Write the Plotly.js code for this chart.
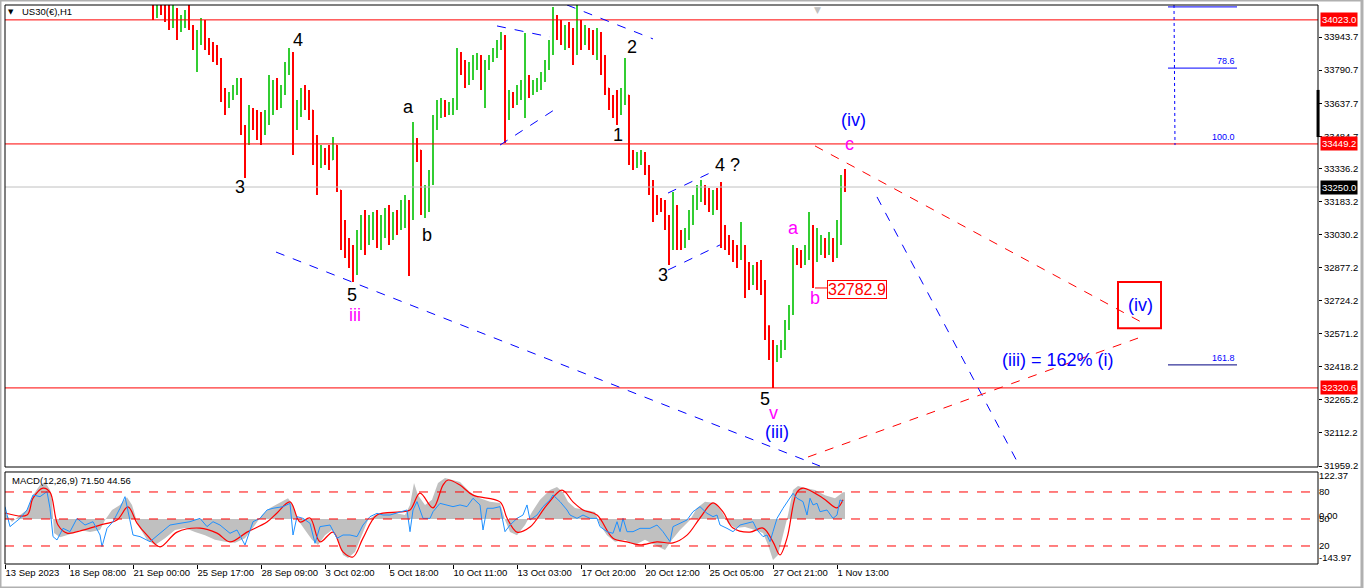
<!DOCTYPE html>
<html><head><meta charset="utf-8">
<script src="https://cdn.plot.ly/plotly-3.0.1.min.js"></script>
<style>html,body{margin:0;padding:0;background:#fff;overflow:hidden}#chart{width:1366px;height:588px}</style>
</head><body><div id="chart"></div><script>
// ---------- DATA (US30 H1) ----------
const firstBar = 37;          // bar number of the first visible bar
const firstOpen = 34069;
const high = [34101,34115,34106,34096,34101,34092,34078,34046,34069,34096,
33999,33976,34032,34023,33939,33921,33907,33847,33708,33689,
33722,33754,33754,33537,33629,33615,33606,33597,33606,33768,
33745,33754,33722,33828,33893,33874,33652,33708,33722,33699,
33606,33490,33444,33430,33444,33481,33444,33236,33097,33014,
32982,33051,33120,33144,33120,33134,33144,33120,33153,33167,
33134,33144,33190,33213,33190,33551,33477,33421,33259,33329,
33583,33652,33662,33652,33643,33662,33893,33874,33837,33828,
33861,33870,33861,33837,33861,33893,33930,33967,33953,33699,
33689,33722,33745,33962,33768,33745,33754,33782,33837,33930,
34083,34046,34023,33999,34013,33985,34092,34023,33999,33985,
33976,33985,33967,33861,33708,33676,33699,33708,33847,33676,
33421,33412,33421,33412,33352,33282,33213,33199,33190,33120,
33227,33167,33051,33060,33144,33213,33259,33282,33259,33245,
33236,33245,33273,33074,33028,33005,32982,33088,32982,32903,
32889,32903,32912,32820,32611,32542,32519,32542,32635,32704,
32982,32968,32959,32982,33134,33074,33060,33028,33014,33042,
33014,33097,33305,33333];
const low = [34023,34032,34046,34013,33976,33985,33930,33967,33985,33976,
33884,33782,33907,33884,33861,33828,33814,33643,33583,33615,
33652,33676,33490,33292,33444,33514,33467,33444,33490,33537,
33583,33606,33615,33676,33768,33398,33514,33574,33606,33560,
33352,33213,33338,33352,33329,33375,33227,32959,32922,32875,
32810,32843,32959,32935,32982,33005,32968,32959,33014,32982,
33005,33028,33051,33060,32838,33097,33366,33120,33107,33134,
33259,33514,33569,33574,33583,33583,33606,33768,33708,33722,
33745,33791,33699,33615,33791,33828,33847,33884,33453,33560,
33615,33629,33652,33569,33662,33676,33689,33699,33736,33791,
33861,33930,33907,33884,33893,33814,33861,33884,33907,33884,
33861,33837,33768,33676,33606,33569,33537,33583,33629,33352,
33329,33338,33352,33305,33213,33088,33120,33134,33051,32889,
32959,32959,32959,32968,33005,33074,33144,33181,33167,33134,
33120,33144,32968,32959,32935,32903,32875,32912,32736,32773,
32797,32773,32750,32542,32450,32320.6,32440,32459,32496,32588,
32658,32889,32875,32889,32912,32782.9,32903,32935,32922,32935,
32903,32922,32982,33227];
const close = [34046,34078,34059,34032,33999,34069,33976,34013,34032,33995,
33907,33930,34013,33921,33893,33884,33837,33676,33652,33662,
33708,33736,33514,33467,33583,33569,33537,33514,33560,33676,
33689,33652,33699,33800,33861,33560,33583,33676,33652,33606,
33421,33375,33412,33398,33375,33444,33236,33028,32982,32935,
32903,33005,33074,33028,33074,33097,33014,33060,33120,33051,
33088,33074,33144,33167,33120,33467,33421,33190,33213,33282,
33537,33606,33615,33597,33615,33629,33837,33791,33745,33791,
33837,33847,33722,33814,33847,33874,33907,33939,33652,33662,
33652,33699,33708,33722,33708,33722,33736,33754,33814,33907,
34023,33976,33953,33976,33930,33884,33999,33953,33967,33939,
33907,33930,33837,33708,33652,33629,33606,33652,33676,33398,
33375,33384,33398,33338,33259,33167,33167,33153,33097,33005,
33144,33005,32996,33028,33120,33190,33213,33227,33213,33190,
33199,33167,33028,33005,32982,32959,32935,32959,32866,32843,
32866,32829,32797,32588,32496,32473,32496,32519,32611,32681,
32935,32922,32912,32935,33028,32959,32982,32982,32968,33005,
32935,33051,33259,33250];

// MACD histogram (bar number, value)
const histX = [0,1.75,3.75,5.5,7,8.75,10,11.25,11.75,12.25,13.75,16.25,18.75,21.25,23.75,25,26.75,28.75,30.5,31.75,33.25,35.5,37.5,40,42.5,45,47.5,50,52.5,55,57.5,60,62.5,64.25,66.25,68.75,70.75,72,73.25,75,76.75,78.25,80,81.75,83.25,84.5,85.75,87.5,89.25,90.75,92.5,95,97.5,100,101.25,102.25,103.25,105,106.75,108.25,110,111.75,113.75,116.25,118.75,121.25,123.75,125,126.25,128,130,131.75,133.75,136.25,138,139.5,140.75,142.5,145,147.5,148.75,150.5,152.5,155,157.5,160,162.5,165,166.75,168.75,171.25,173,175,177.5,179.25,180.75,182.5,185,187.5,189.5,190.75,192,193.25,194.5,195.75,197,198.25,200,202.5,205,207.5,209.5,210];
const histY = [18,-9,12,27,71,101,110,86,57,-42,-54,-45,-33,-39,-33,-3,27,42,65,42,-18,-62,-77,-57,-33,-27,-39,-48,-62,-68,-71,-57,-18,12,33,48,62,42,-3,-33,-62,-77,-48,-33,-62,-107,-116,-98,-48,-3,12,18,18,12,42,107,71,42,57,107,122,116,110,80,62,51,48,-3,-39,-48,-18,21,57,86,95,80,51,33,27,21,-18,-48,-68,-62,-77,-62,-77,-92,-62,-33,-3,33,51,48,21,-12,-27,-24,-33,-42,-77,-122,-107,-48,12,86,98,92,86,71,62,80,80];
// MACD signal line
const sigX = [0,5.5,7,9.5,11.25,13.25,15.5,19.5,23.75,28,30.75,33,35.5,38.75,43,48.75,53,56.25,60.5,65.5,68,71.25,73.75,76.25,78.75,82,84.5,87,89.5,93,98.75,101.25,103.75,107,109.5,110.75,113.75,117,123.75,125.5,128,131.25,135.5,139.25,142,144.5,148,152,155.5,158.75,163,167,170.5,173.75,177,179.5,182,186.25,189.5,192,193.75,195.5,198,199.5,204.5,208,209.5];
const sigY = [18,12,62,92,80,-18,-42,-33,-18,-3,36,-12,-48,-83,-39,-27,-42,-68,-39,-9,18,51,-9,3,-68,-39,-98,-113,-57,12,21,27,77,33,101,116,101,71,51,3,-39,-24,42,86,51,27,12,-57,-68,-77,-68,-71,-48,3,48,21,-27,-39,-27,-68,-107,-57,80,92,62,33,57];
// oscillator line (0-100 scale)
const oscX = [0,1.25,3.75,5.5,7,8.75,10.5,11.25,12,13,14.5,16.25,18,20,22,23.75,24.25,25.5,27,28.75,30,30.75,32,33.75,36.25,38.75,41.25,43.75,46.25,48.75,50.5,52,53.75,56.25,58,60,62,63.75,65.5,67,69.5,71.25,72,73,74.5,76.25,77.5,78.75,81.25,83,84.5,86.25,88,89.5,91.25,93,94.5,96.25,98.75,100.5,101.25,102,103,104.5,106.25,107,108.75,110.5,112,113.75,115.5,117,118.75,119.5,120.5,122,123.75,125,126.25,128,129.5,130.5,131.25,133,134.5,136.25,137,138.75,140.5,141.25,143,144.5,146.25,148,148.75,150.5,152,153,153.75,154.5,155.5,157,158.75,161.25,163,164.5,166.25,167,168.75,170.5,172,173,173.75,175.5,177,178,178.75,180.5,182,183.75,185.5,187,188,189.5,190.5,191.25,192,193,194.5,196.25,197,198,199.5,200.5,201.25,202,203,203.75,205.5,207,208,208.75,209.5];
const oscY = [63.7,41.5,50.7,60,76.7,74.8,80.4,61.9,30.4,26.7,39.6,35.9,50.7,43.3,47,32.2,19.3,39.6,47,61.9,74.8,58.1,32.2,30.4,24.8,34.1,43.3,45.2,47,50.7,41.5,47,43.3,34.1,37.8,21.1,47,50.7,60,61.9,63.7,67.4,32.2,52.6,50.7,45.2,23,41.5,43.3,28.5,32.2,32.2,30.4,43.3,52.6,56.3,54.4,54.4,58.1,60,35.9,60,69.3,50.7,50.7,58.1,67.4,65.6,63.7,65.6,63.7,73,65.6,37.8,61.9,61.9,63.7,35.9,43.3,50.7,54.4,65.6,48.9,54.4,63.7,71.2,76.7,69.3,60,54.4,50.7,54.4,50.7,50.7,41.5,35.9,34.1,47,35.9,50.7,35.9,35.9,39.6,39.6,43.3,35.9,24.8,41.5,45.2,48.9,58.1,61.9,63.7,56.3,52.6,54.4,43.3,39.6,35.9,43.3,45.2,47,37.8,30.4,32.2,24.8,35.9,50.7,61.9,73,78.5,73,69.3,54.4,73,65.6,67.4,58.1,60,50.7,54.4,71.2,69.3];

// axis labels
const priceTicks = [33943.7,33790.7,33637.7,33484.7,33336.2,33183.2,33030.2,32877.2,32724.2,32571.2,32418.2,32265.2,32112.2,31959.2];
const dateTickPos = [0,16,32,48,64,80,96,112,128,144,160,176,192,208];
const dateTickText = ['13 Sep 2023','18 Sep 08:00','21 Sep 00:00','25 Sep 17:00','28 Sep 09:00','3 Oct 02:00','5 Oct 18:00','10 Oct 11:00','13 Oct 03:00','17 Oct 20:00','20 Oct 12:00','25 Oct 05:00','27 Oct 21:00','1 Nov 13:00'];
const levelLines = [34023.0, 33449.2, 32320.6];
const bidPrice = 33250.0;
const bLow = 32782.9;

// ---------- BUILD ----------
const barX = close.map((_, i) => firstBar + i);
const open = close.map((c, i) => i === 0 ? firstOpen : close[i - 1]);

const F = 'Liberation Sans, Arial, sans-serif';
const BLUE = '#0000ff', MAG = '#ff00ff', RED = '#ff0000';

const traces = [
  {type:'ohlc', x:barX, open, high, low, close, xaxis:'x', yaxis:'y',
   increasing:{line:{color:'#32cd32', width:2}},
   decreasing:{line:{color:RED, width:2}},
   tickwidth:0.1, hoverinfo:'skip', showlegend:false},
  {type:'scatter', mode:'lines', x:histX, y:histY, xaxis:'x', yaxis:'y2', fill:'tozeroy',
   fillcolor:'#c0c0c0', line:{width:0, color:'#c0c0c0'}, hoverinfo:'skip', showlegend:false},
  {type:'scatter', mode:'lines', x:oscX, y:oscY, xaxis:'x', yaxis:'y3',
   line:{width:1, color:'#1e90ff'}, hoverinfo:'skip', showlegend:false},
  {type:'scatter', mode:'lines', x:sigX, y:sigY, xaxis:'x', yaxis:'y2',
   line:{width:1.2, color:RED, shape:'spline'}, hoverinfo:'skip', showlegend:false}
];

const mainDom = [0.17352, 1], macdDom = [0, 0.16458];
const shapes = [];
function seg(x0,y0,x1,y1,color,dash,w){shapes.push({type:'line',xref:'x',yref:'y',x0,y0,x1,y1,line:{color,width:w||1,dash:dash||'solid'}});}
levelLines.forEach(v => shapes.push({type:'line',xref:'paper',yref:'y',x0:0,x1:1,y0:v,y1:v,line:{color:RED,width:1}}));
shapes.push({type:'line',xref:'paper',yref:'y',x0:0,x1:1,y0:bidPrice,y1:bidPrice,line:{color:'#c0c0c0',width:1}});
// blue dashed channel lines
seg(67.75,32949,203.75,31959,BLUE,'dash');
seg(123,33995,136.25,33944,BLUE,'dash');
seg(140.5,34092,162,33935,BLUE,'dash');
seg(123.75,33444,138,33615,BLUE,'dash');
seg(165.75,33222,176.25,33315,BLUE,'dash');
seg(165.75,32866,178.75,32982,BLUE,'dash');
seg(218,33204,253.75,31955,BLUE,'dash');
// red dashed wedge
seg(202.5,33440,284.5,32621,RED,'dash');
seg(200.75,32001,283.25,32551,RED,'dash');
// fib tool
seg(292.25,34092,292.5,33444,BLUE,'dot');
seg(290.75,34083,308,34083,BLUE);
seg(290.75,33800,308,33800,BLUE);
seg(290.75,32427,308,32427,'#000080');
// b low marker
seg(202.5,bLow,205.5,bLow,RED);
// boxed (iv)
shapes.push({type:'rect',xref:'x',yref:'y',x0:278.25,x1:289,y0:32597,y1:32810,line:{color:RED,width:2}});
// MACD levels
[80,50,20].forEach(v => shapes.push({type:'line',xref:'paper',yref:'y3',x0:0,x1:1,y0:v,y1:v,line:{color:RED,width:1,dash:'dash'}}));
// panel frames
shapes.push({type:'rect',xref:'paper',yref:'paper',x0:0,x1:1,y0:mainDom[0],y1:mainDom[1],line:{color:'#000',width:1}});
shapes.push({type:'rect',xref:'paper',yref:'paper',x0:0,x1:1,y0:macdDom[0],y1:macdDom[1],line:{color:'#000',width:1}});
// scroll marker on price scale
shapes.push({type:'rect',xref:'paper',yref:'y',x0:0.9989,x1:1.0012,y0:33481,y1:33699,fillcolor:'#000',line:{width:0}});
// window border
shapes.push({type:'rect',xref:'paper',yref:'paper',x0:-0.0038,x1:1.0335,y0:-0.043,y1:1.0089,line:{color:'#b0b0b0',width:3}});

const annotations = [];
function lab(x,y,text,color,size){annotations.push({x,y,xref:'x',yref:'y',text,showarrow:false,font:{family:F,size:size||18,color:color||'#000'},xanchor:'center',yanchor:'middle'});}
lab(58.75,33250,'3'); lab(73.25,33930,'4'); lab(100.75,33620,'a'); lab(105.5,33028,'b');
lab(86.75,32750,'5'); lab(87.5,32658,'iii',MAG);
lab(156.75,33898,'2'); lab(153.25,33490,'1'); lab(180.5,33352,'4 ?'); lab(164.5,32843,'3');
lab(190,32269,'5'); lab(192,32204,'v',MAG); lab(193,32117,'(iii)',BLUE);
lab(197,33060,'a',MAG); lab(202.5,32736,'b',MAG); lab(211,33449,'c',MAG); lab(212,33560,'(iv)',BLUE);
lab(263.25,32450,'(iii) = 162% (i)',BLUE);
lab(283.75,32704,'(iv)',BLUE);
annotations.push({x:213,y:32778,xref:'x',yref:'y',text:'32782.9',showarrow:false,font:{family:F,size:16,color:RED},
  bordercolor:RED,borderwidth:1,borderpad:0,bgcolor:'#fff',xanchor:'center',yanchor:'middle'});
// fib labels
[['78.6',33800],['100.0',33449.2],['161.8',32427]].forEach(([t,v]) => annotations.push({x:308,y:v,xref:'x',yref:'y',text:t,showarrow:false,
  font:{family:F,size:9,color:BLUE},xanchor:'right',yanchor:'bottom',yshift:0}));
// price boxes on scale
levelLines.forEach(v => annotations.push({x:1.0015,y:v,xref:'paper',yref:'y',text:v.toFixed(1),showarrow:false,xanchor:'left',yanchor:'middle',
  bgcolor:RED,font:{family:F,size:9.5,color:'#fff'},borderpad:1}));
annotations.push({x:1.0015,y:bidPrice,xref:'paper',yref:'y',text:bidPrice.toFixed(1),showarrow:false,xanchor:'left',yanchor:'middle',
  bgcolor:'#000',font:{family:F,size:9.5,color:'#fff'},borderpad:1});
// titles
annotations.push({x:0.0045,y:0.9875,xref:'paper',yref:'paper',text:'▼',showarrow:false,xanchor:'center',yanchor:'middle',font:{family:'DejaVu Sans',size:7,color:'#000'}});
annotations.push({x:0.0115,y:0.9875,xref:'paper',yref:'paper',text:'US30(€),H1',showarrow:false,xanchor:'left',yanchor:'middle',font:{family:F,size:9.5,color:'#000'}});
annotations.push({x:0.0038,y:0.1485,xref:'paper',yref:'paper',text:'MACD(12,26,9) 71.50 44.56',showarrow:false,xanchor:'left',yanchor:'middle',font:{family:F,size:9.5,color:'#000'}});
annotations.push({x:203,y:1.003,xref:'x',yref:'paper',text:'▼',showarrow:false,xanchor:'center',yanchor:'top',font:{family:'DejaVu Sans',size:9,color:'#c0c0c0'}});

const tickFont = {family:F,size:9.5,color:'#000'};
const layout = {
  width:1366, height:588, margin:{l:5,r:48,t:5,b:24},
  paper_bgcolor:'#fff', plot_bgcolor:'#fff', showlegend:false,
  xaxis:{range:[0,328.25], anchor:'y2', tickvals:dateTickPos, ticktext:dateTickText, ticks:'outside', ticklen:4,
    tickcolor:'#000', ticklabelposition:'outside right', tickangle:0, tickfont:tickFont, showgrid:false, zeroline:false, showline:false,
    rangeslider:{visible:false}, fixedrange:true},
  yaxis:{domain:mainDom, range:[31954.7,34091.9], side:'right', anchor:'x', tickvals:priceTicks,
    ticktext:priceTicks.map(v=>v.toFixed(1)), ticks:'outside', ticklen:3, tickcolor:'#000', tickfont:tickFont,
    showgrid:false, zeroline:false, showline:false, fixedrange:true},
  yaxis2:{domain:macdDom, range:[-133.9,139.9], side:'right', anchor:'x', tickvals:[128,9,-116],
    ticktext:['122.37','0.00','-143.97'], ticks:'', tickfont:tickFont, showgrid:false, zeroline:false, showline:false, fixedrange:true},
  yaxis3:{overlaying:'y2', range:[0,102.2], side:'right', anchor:'x', tickvals:[80,50,20], ticktext:['80','50','20'],
    ticks:'', tickfont:tickFont, showgrid:false, zeroline:false, showline:false, fixedrange:true},
  shapes, annotations
};
Plotly.newPlot('chart', traces, layout, {staticPlot:true, displayModeBar:false});
</script></body></html>
